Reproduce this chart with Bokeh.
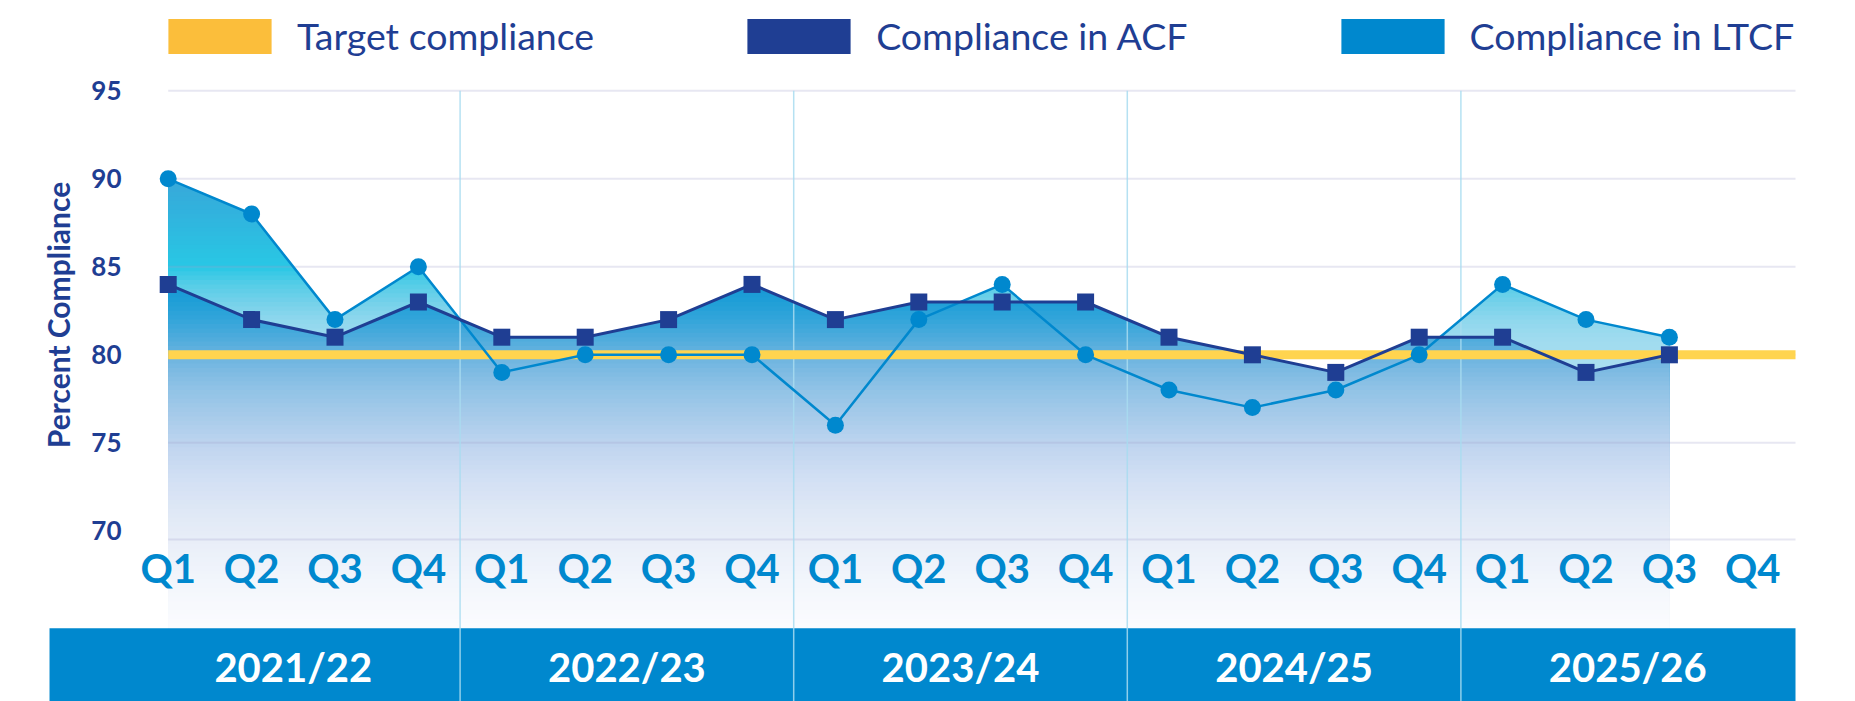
import numpy as np
from bokeh.plotting import figure
from bokeh.models import (Range1d, FixedTicker, ColumnDataSource, Legend, LegendItem)
from bokeh.core.properties import value
from bokeh.embed import file_html
from bokeh.resources import INLINE

# ---------------- data ----------------
years = ["2021/22", "2022/23", "2023/24", "2024/25", "2025/26"]
quarters = ["Q1", "Q2", "Q3", "Q4"]
quarter_labels = quarters * len(years)
acf = [84, 82, 81, 83, 81, 81, 82, 84, 82, 83, 83, 83, 81, 80, 79, 81, 81, 79, 80]
ltcf = [90, 88, 82, 85, 79, 80, 80, 80, 76, 82, 84, 80, 78, 77, 78, 80, 84, 82, 81]
target = 80
y_ticks = [70, 75, 80, 85, 90, 95]
grid_values = [69.5, 75, 80, 85, 90, 95]

# ---------------- styling / geometry ----------------
NAVY = "#1F3E93"
BLUE = "#0088CE"
YELLOW_LINE = "#FFD44F"
YELLOW_LEG = "#FBBE3B"
FONT = "Lato"

X_LEFT, X_RIGHT = -2.0108, 20.2314
Y_BOTTOM, Y_TOP = 60.301, 100.131
PLOT_RIGHT = 19.512      # right end of grid / band
BAND_LEFT = -1.423
BAND_TOP = 64.47
Q_LABEL_Y = 67.86
YEAR_LABEL_Y = 62.25

p = figure(width=1855, height=701, x_range=Range1d(X_LEFT, X_RIGHT),
           y_range=Range1d(Y_BOTTOM, Y_TOP), toolbar_location=None,
           output_backend="svg", min_border=0, x_axis_location=None,
           y_axis_location="left")
p.outline_line_color = None
p.grid.visible = False
p.background_fill_color = "white"
p.border_fill_color = "white"

idx = np.arange(len(acf), dtype=float)


def hex2rgb(h):
    h = h.lstrip("#")
    return np.array([int(h[i:i + 2], 16) for i in (0, 2, 4)], dtype=float)


def color_at(y, stops):
    ys = np.array([s[0] for s in stops])[::-1]
    cols = np.array([hex2rgb(s[1]) for s in stops])[::-1]
    rgb = [np.interp(y, ys, cols[:, k]) for k in range(3)]
    return "#%02x%02x%02x" % tuple(int(round(c)) for c in rgb)


def clipped_top(vals, h):
    vals = np.asarray(vals, dtype=float)
    xs = list(idx)
    for i in range(len(vals) - 1):
        a, b = vals[i], vals[i + 1]
        if (a - h) * (b - h) < 0:
            xs.append(i + (h - a) / (b - a))
    xs = np.sort(np.array(xs))
    ys = np.minimum(np.interp(xs, idx, vals), h)
    return xs, ys


def gradient_source(vals, top, bottom, step, stops):
    xs_l, ys_l, cs = [], [], []
    levels = np.arange(top, bottom, -step)
    for h in levels:
        xs, ys = clipped_top(vals, h)
        xs_l.append(np.concatenate([xs, [xs[-1], xs[0]]]))
        ys_l.append(np.concatenate([ys, [BAND_TOP, BAND_TOP]]))
        cs.append(color_at(h - step / 2, stops))
    return ColumnDataSource(dict(xs=xs_l, ys=ys_l, c=cs))


ltcf_stops = [(90.5, "#3aa5d8"), (88, "#31b3de"), (86, "#2bc1e2"), (85, "#29c7e5"),
              (84, "#55cde7"), (83, "#74d1ea"), (82, "#8ed7ed"), (81, "#9edbef"),
              (79, "#acdff0"), (64, "#c0e6f3")]
acf_stops = [(84.5, "#1494d2"), (83, "#1f9fd7"), (82, "#33a5da"), (81, "#4dabdc"),
             (80, "#68b3df"), (79, "#7fbbe3"), (78, "#91c3e6"), (76.5, "#a7cbea"),
             (74.6, "#c2d6f0"), (72.7, "#d4e1f4"), (70.8, "#e1e9f6"), (68.9, "#ebf0f9"),
             (67, "#f3f6fc"), (64.5, "#fbfcfe")]

src_l = gradient_source(ltcf, max(ltcf) + 0.5, 78.5, 0.25, ltcf_stops)
p.patches("xs", "ys", fill_color="c", line_color=None, source=src_l)
src_a = gradient_source(acf, max(acf) + 0.5, BAND_TOP, 0.25, acf_stops)
p.patches("xs", "ys", fill_color="c", line_color=None, source=src_a)

# bottom year band
p.quad(left=[BAND_LEFT], right=[PLOT_RIGHT], top=[BAND_TOP], bottom=[Y_BOTTOM - 2],
       fill_color=BLUE, line_color=None)

# gridlines
p.segment(x0=[0] * len(grid_values), x1=[PLOT_RIGHT] * len(grid_values),
          y0=grid_values, y1=grid_values, line_color="#a0a0cc", line_alpha=0.25,
          line_width=2)

# year dividers
div_x = [4 * k + 3.5 for k in range(len(years) - 1)]
p.segment(x0=div_x, x1=div_x, y0=[95] * len(div_x), y1=[Y_BOTTOM - 2] * len(div_x),
          line_color="#a8dcf0", line_alpha=0.85, line_width=1.5)

# target line
p.line(x=[0, PLOT_RIGHT], y=[target, target], line_color=YELLOW_LINE, line_width=9)

# series
p.line(idx, ltcf, line_color=BLUE, line_width=2.5)
p.scatter(idx, ltcf, marker="circle", size=17, fill_color=BLUE, line_color=None)
p.line(idx, acf, line_color=NAVY, line_width=3)
p.scatter(idx, acf, marker="square", size=17, fill_color=NAVY, line_color=None)

# quarter labels
q_x = list(range(len(quarter_labels)))
p.text(x=q_x, y=[Q_LABEL_Y] * len(q_x), text=quarter_labels, text_font=value(FONT),
       text_font_style="bold", text_font_size="40px", text_color=BLUE,
       text_align="center", text_baseline="middle")

# year labels
year_x = [4 * k + 1.5 for k in range(len(years))]
p.text(x=year_x, y=[YEAR_LABEL_Y] * len(years), text=years, text_font=value(FONT),
       text_font_style="bold", text_font_size="40px", text_color="white",
       text_align="center", text_baseline="middle")

# y axis
ax = p.yaxis[0]
ax.fixed_location = -0.452
ax.bounds = (69.5, 95)
ax.ticker = FixedTicker(ticks=y_ticks)
ax.axis_line_color = None
ax.major_tick_line_color = None
ax.minor_tick_line_color = None
ax.major_tick_in = 0
ax.major_tick_out = 0
ax.major_label_standoff = 9
ax.major_label_text_font = FONT
ax.major_label_text_font_style = "bold"
ax.major_label_text_font_size = "26px"
ax.major_label_text_color = NAVY
ax.axis_label = "Percent Compliance"
ax.axis_label_text_font = FONT
ax.axis_label_text_font_style = "bold"
ax.axis_label_text_font_size = "30px"
ax.axis_label_text_color = NAVY
ax.axis_label_standoff = 12

# legend (swatch renderers carry no visible geometry)
nan = [np.nan]
r_t = p.quad(left=nan, right=nan, top=nan, bottom=nan, fill_color=YELLOW_LEG, line_color=None)
r_a = p.quad(left=nan, right=nan, top=nan, bottom=nan, fill_color=NAVY, line_color=None)
r_l = p.quad(left=nan, right=nan, top=nan, bottom=nan, fill_color=BLUE, line_color=None)
legend = Legend(items=[LegendItem(label="Target compliance", renderers=[r_t]),
                       LegendItem(label="Compliance in ACF", renderers=[r_a]),
                       LegendItem(label="Compliance in LTCF", renderers=[r_l])],
                orientation="horizontal", location=(155, 638), glyph_width=129,
                glyph_height=44, label_standoff=13, spacing=140, padding=0, margin=0,
                border_line_color=None, background_fill_alpha=0,
                label_text_font=FONT, label_text_font_size="37.5px",
                label_text_color=NAVY, label_height=55)
p.add_layout(legend)

open("out.html", "w").write(file_html(p, INLINE))
